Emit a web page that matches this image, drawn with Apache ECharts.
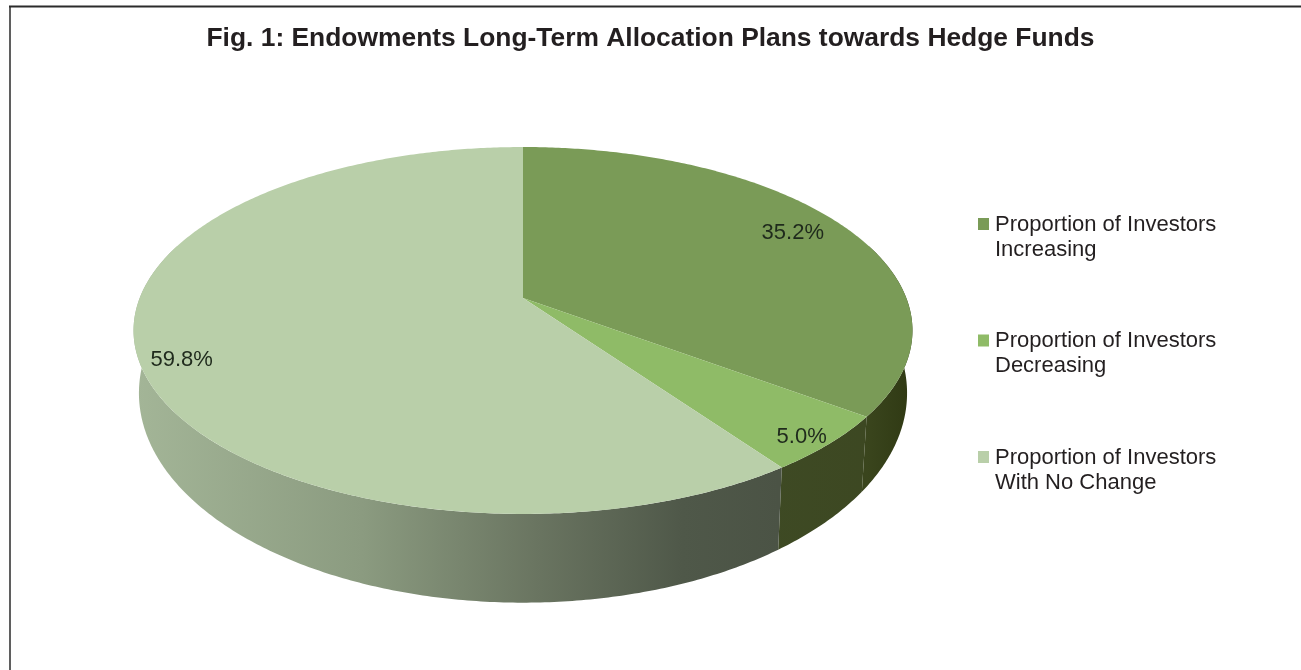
<!DOCTYPE html>
<html>
<head>
<meta charset="utf-8">
<title>Endowments Long-Term Allocation Plans</title>
<style>
  html, body { margin: 0; padding: 0; background: #fff; }
  #chart { width: 1301px; height: 670px; }
</style>
<script src="https://cdn.jsdelivr.net/npm/echarts@6/dist/echarts.min.js"></script>
</head>
<body>
<div id="chart"></div>
<script>
const chartTitle = 'Fig. 1: Endowments Long-Term Allocation Plans towards Hedge Funds';
const categories = [
  'Proportion of Investors\nIncreasing',
  'Proportion of Investors\nDecreasing',
  'Proportion of Investors\nWith No Change'
];
const shares = [35.2, 5.0, 59.8];
const topColors = ['#7a9b57', '#8fbb67', '#b9cfa9'];

// Rim shading of each slice, left to right across the disc.
const rimStops = [
  [[0, '#3a451d'], [1, '#2f3913']],
  [[0, '#3f4b25'], [1, '#3c4721']],
  [[0, '#a3b597'], [0.35, '#8b9b80'], [0.62, '#6a7561'], [0.85, '#4f5849'], [1, '#4b5345']]
];

// Projected disc: a circle seen in perspective, with the rim's lower edge below it.
const disc = { cx: 523, cy: 298, a: 383.3, b: 177.7, k: 0.177 };
const rimEdge = { a: 378, b: 203, cy: 356 };
const labelReach = [0.84, 0.92, 0.89];
const labelShift = [-2, 6, 12];

const total = shares.reduce((s, v) => s + v, 0);
const startShares = shares.map((_, i) => shares.slice(0, i).reduce((s, v) => s + v, 0));

function project(theta, r, e) {
  const u = Math.sin(theta) * r, v = Math.cos(theta) * r;
  const d = 1 + disc.k * v;
  return [disc.cx + e.a * u / d, e.cy - e.b * v / d];
}

function arc(from, to, e) {
  const n = Math.max(2, Math.ceil(Math.abs(to - from) / 0.01));
  const pts = [];
  for (let i = 0; i <= n; i++) pts.push(project(from + (to - from) * i / n, 1, e));
  return pts;
}

function renderSlice(index) {
  return function (params, api) {
    const value = api.value(0), start = api.value(1);
    const t0 = start / total * Math.PI * 2;
    const t1 = (start + value) / total * Math.PI * 2;
    const topEdge = { a: disc.a, b: disc.b, cy: disc.cy };

    // The rim only shows on the near half of the disc.
    const r0 = Math.max(t0, Math.PI * 0.4);
    const r1 = Math.min(t1, Math.PI * 1.6);
    const children = [];
    if (r1 > r0) {
      children.push({
        type: 'polygon',
        shape: { points: arc(r0, r1, topEdge).concat(arc(r1, r0, rimEdge)) },
        style: {
          fill: new echarts.graphic.LinearGradient(
            index === 2 ? 137 : project(t1, 1, topEdge)[0] - (index === 1 ? 80 : 0), 0,
            index === 2 ? 779 : 913, 0,
            rimStops[index].map(s => ({ offset: s[0], color: s[1] })),
            true
          )
        }
      });
    }
    children.push({
      type: 'polygon',
      shape: { points: [[disc.cx, disc.cy]].concat(arc(t0, t1, topEdge)) },
      style: { fill: topColors[index] }
    });

    const mid = (t0 + t1) / 2;
    const at = project(mid, labelReach[index], topEdge);
    children.push({
      type: 'text',
      x: at[0],
      y: at[1] + labelShift[index],
      style: {
        text: value.toFixed(1) + '%',
        fill: '#1f2a1c',
        font: '22px "Liberation Sans", Arial, sans-serif',
        align: 'center',
        verticalAlign: 'middle'
      }
    });
    return { type: 'group', children };
  };
}

const chart = echarts.init(document.getElementById('chart'), null, { renderer: 'canvas' });
chart.setOption({
  animation: false,
  backgroundColor: '#ffffff',
  title: {
    text: chartTitle,
    left: 'center',
    top: 21,
    textStyle: {
      fontFamily: '"Liberation Sans", Arial, sans-serif',
      fontWeight: 'bold',
      fontSize: 26.4,
      color: '#231f20'
    }
  },
  legend: {
    orient: 'vertical',
    left: 978,
    top: 212,
    padding: 0,
    itemWidth: 11,
    itemHeight: 38,
    itemGap: 66.5,
    selectedMode: false,
    // The square sits at the top of a taller box, so it lines up with the first text line.
    icon: 'path://M0 0H11V12H0ZM0 38H0.01V38Z',
    textStyle: {
      fontFamily: '"Liberation Sans", Arial, sans-serif',
      fontSize: 22,
      lineHeight: 25,
      color: '#231f20',
      padding: [0, 0, 0, 1]
    },
    data: categories
  },
  graphic: [
    { type: 'line', silent: true, shape: { x1: 10, y1: 6, x2: 10, y2: 670 }, style: { stroke: '#5f5f5f', lineWidth: 2 } },
    { type: 'line', silent: true, shape: { x1: 9, y1: 6.5, x2: 1301, y2: 6.5 }, style: { stroke: '#2b2b2b', lineWidth: 2 } }
  ],
  series: categories.map((name, i) => ({
    type: 'custom',
    name,
    coordinateSystem: 'none',
    itemStyle: { color: topColors[i] },
    renderItem: renderSlice(i),
    data: [[shares[i], startShares[i]]]
  }))
});
</script>
</body>
</html>
